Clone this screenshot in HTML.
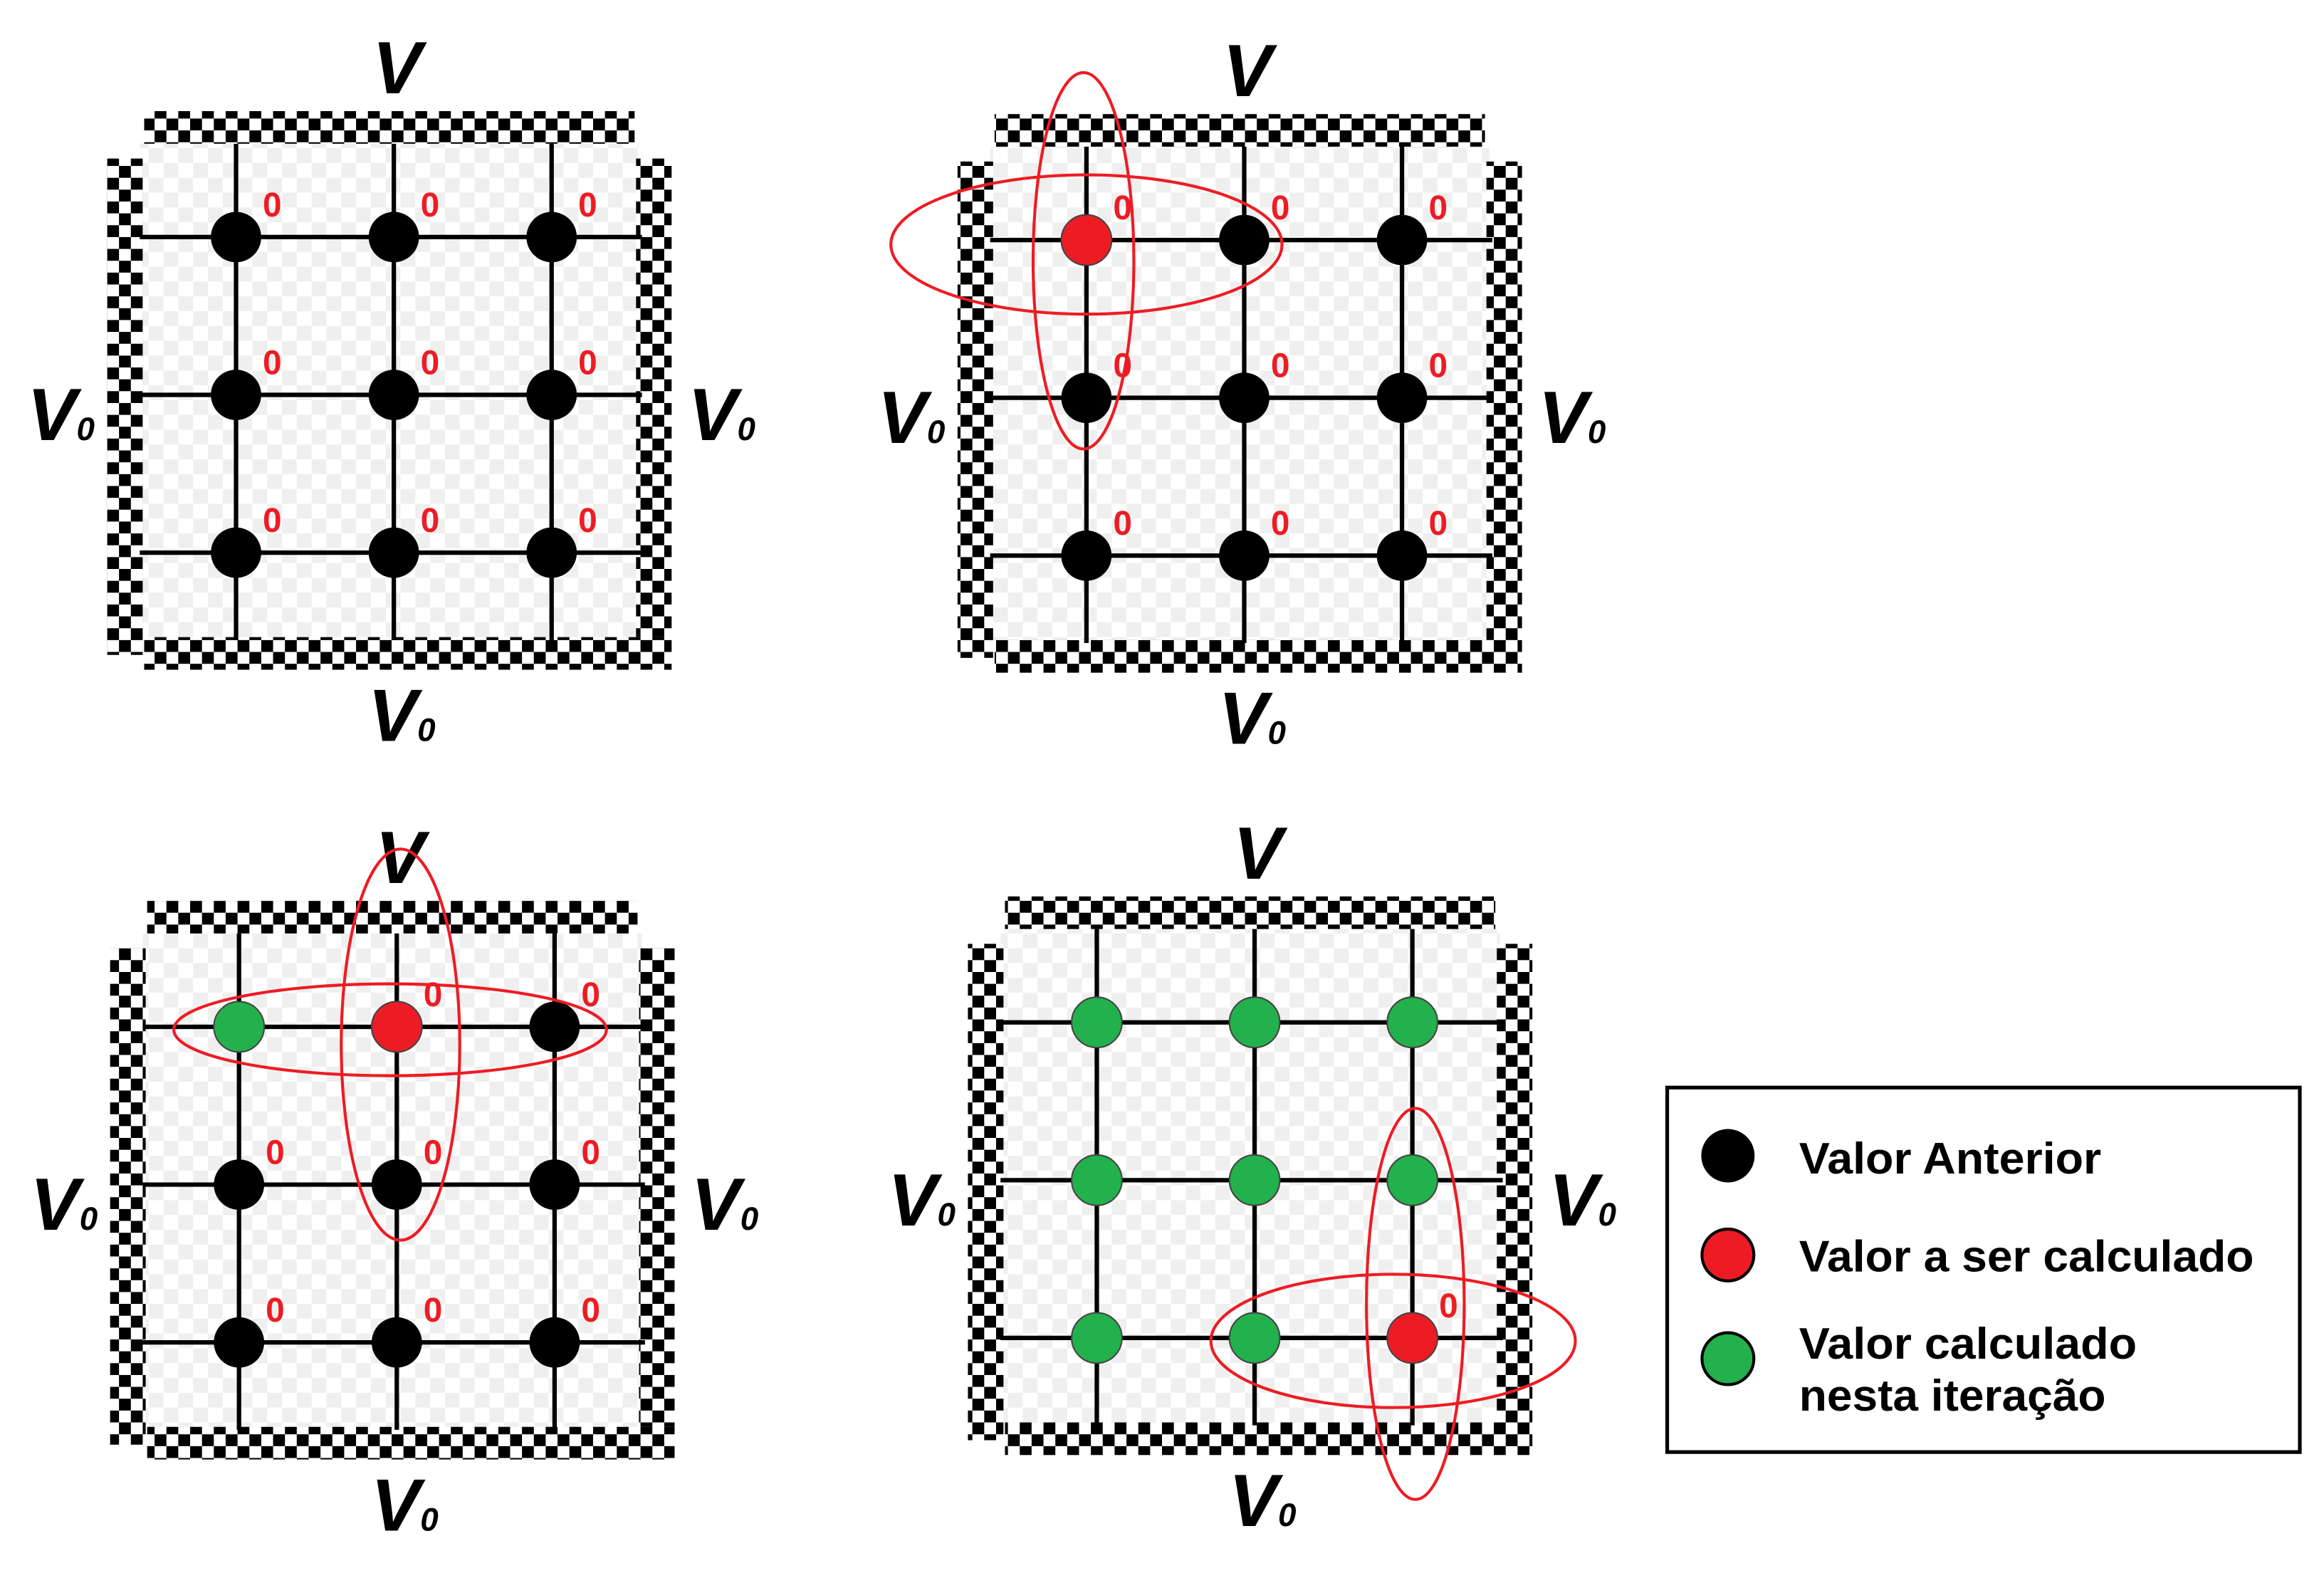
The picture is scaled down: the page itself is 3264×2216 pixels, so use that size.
<!DOCTYPE html>
<html><head><meta charset="utf-8"><title>Gauss-Seidel iteração</title>
<style>
html,body{margin:0;padding:0;background:#fff;}
svg{display:block;}
text{font-family:"Liberation Sans",Arial,sans-serif;}
</style></head>
<body>
<svg id="fig" width="3264" height="2216" viewBox="0 0 1568 1065" xmlns="http://www.w3.org/2000/svg">
<defs>
<pattern id="chk" width="16" height="16" patternUnits="userSpaceOnUse">
<rect width="16" height="16" fill="#fff"/>
<rect x="0" y="0" width="8" height="8" fill="#000"/>
<rect x="8" y="8" width="8" height="8" fill="#000"/>
</pattern>
<pattern id="bg" width="20" height="20" patternUnits="userSpaceOnUse">
<rect width="20" height="20" fill="#fff"/>
<rect x="0" y="0" width="10" height="10" fill="#efefef"/>
<rect x="10" y="10" width="10" height="10" fill="#efefef"/>
</pattern>
</defs>
<g id="panels"></g>
<g>
<rect x="1125" y="734" width="427" height="246" fill="#fff" stroke="#000" stroke-width="2.5"/>
<circle cx="1166" cy="780" r="18" fill="#000"/>
<text x="1214" y="792" font-size="30" font-weight="bold" textLength="204" lengthAdjust="spacingAndGlyphs">Valor Anterior</text>
<circle cx="1166" cy="847" r="17.5" fill="#ed1c24" stroke="#000" stroke-width="2"/>
<text x="1214" y="858" font-size="30" font-weight="bold" textLength="307" lengthAdjust="spacingAndGlyphs">Valor a ser calculado</text>
<circle cx="1166" cy="917" r="17.5" fill="#22b14c" stroke="#000" stroke-width="2"/>
<text x="1214" y="917" font-size="30" font-weight="bold" textLength="228" lengthAdjust="spacingAndGlyphs">Valor calculado</text>
<text x="1214" y="952" font-size="30" font-weight="bold" textLength="207" lengthAdjust="spacingAndGlyphs">nesta iteração</text>
</g>
</svg>
<script>
const NS = "http://www.w3.org/2000/svg";
// panel origins (first grid intersection) in diagram units
const panelX = [159, 733, 161, 740];
const panelY = [160, 162, 693, 690];
// node states per panel (row-major 3x3): 0 = anterior (black), 1 = a calcular (red), 2 = calculado (green)
const panelStates = [
  [0,0,0, 0,0,0, 0,0,0],
  [1,0,0, 0,0,0, 0,0,0],
  [2,1,0, 0,0,0, 0,0,0],
  [2,2,2, 2,2,2, 2,2,1]
];
// show "0" labels per node
const panelZeros = [
  [1,1,1, 1,1,1, 1,1,1],
  [1,1,1, 1,1,1, 1,1,1],
  [0,1,1, 1,1,1, 1,1,1],
  [0,0,0, 0,0,0, 0,0,1]
];
// ellipses highlighting the stencil: [panel, cx, cy, rx, ry]
const ellipses = [
  [1, 733, 165, 132, 47], [1, 731, 176, 34, 127],
  [2, 263, 695, 146, 31], [2, 270, 705, 40, 132],
  [3, 940, 905, 123, 45], [3, 955, 880, 33, 132]
];
const colors = ["#000", "#ed1c24", "#22b14c"];
const step = 106.5;
const root = document.getElementById("panels");
function mk(tag, attrs, parent){const e=document.createElementNS(NS,tag);for(const k in attrs)e.setAttribute(k,attrs[k]);parent.appendChild(e);return e;}
function vLabel(g,x,y,sub,name){
  const t=mk("text",{x:x,y:y,"font-size":50,"font-weight":"bold","font-style":"italic"},g);
  
  
  t.textContent="V";
  if(sub){const s=mk("tspan",{"font-size":22,dy:0},t);s.textContent="0";}
}
panelStates.forEach((states,p)=>{
  const ox=panelX[p], oy=panelY[p];
  const g=mk("g",{},root);
  
  
  const L=ox-87, T=oy-85, R=ox+2*step+81, B=oy+2*step+79;
  const bgr=mk("rect",{x:L+22,y:T+22,width:R-L-44,height:B-T-44,fill:"url(#bg)"},g);
  
  
  [[L+25,T,R-L-50,22,'border-top'],[L+25,B-22,R-L-25,22,'border-bottom'],[L,T+32,24,B-T-42,'border-left'],[R-24,T+32,24,B-T-54,'border-right']].forEach(b=>{
    const r=mk("rect",{x:b[0],y:b[1],width:b[2],height:b[3],fill:"url(#chk)"},g);
    
    
  });
  for(let i=0;i<3;i++){
    const h=mk("line",{x1:L+22,x2:R-20,y1:oy+i*step,y2:oy+i*step,stroke:"#000","stroke-width":3},g);
    
    
    const v=mk("line",{y1:T+22,y2:B-20,x1:ox+i*step,x2:ox+i*step,stroke:"#000","stroke-width":3},g);
    
    
  }
  states.forEach((s,k)=>{
    const cx=ox+(k%3)*step, cy=oy+Math.floor(k/3)*step;
    const c=mk("circle",{cx:cx,cy:cy,r:17,fill:colors[s],stroke:s?"#444":"none","stroke-width":1},g);
    
    
    if(panelZeros[p][k]){
      const t=mk("text",{x:cx+18,y:cy-14,"font-size":23,"font-weight":"bold",fill:"#ed1c24"},g);
      
      
      t.textContent="0";
    }
  });
  vLabel(g,ox+92,oy-97,false,'v-top-label');
  vLabel(g,L-54,oy+137,true,'v0-left-label');
  vLabel(g,R+11,oy+137,true,'v0-right-label');
  vLabel(g,ox+89,B+48,true,'v0-bottom-label');
});
ellipses.forEach(e=>{
  const el=mk("ellipse",{cx:e[1],cy:e[2],rx:e[3],ry:e[4],fill:"none",stroke:"#ed1c24","stroke-width":2},root);
  
  
});
</script>
</body></html>
